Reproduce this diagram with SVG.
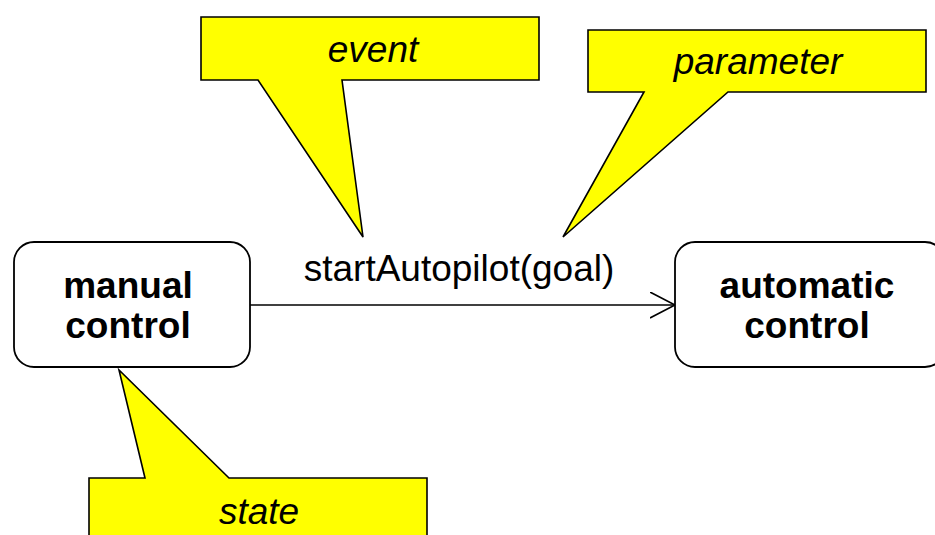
<svg xmlns="http://www.w3.org/2000/svg" width="935" height="535" viewBox="0 0 935 535">
<defs>
<style>
.note{fill:#ffff00;stroke:#000;stroke-width:1.6;stroke-linejoin:miter}
.notetext{font-family:"Liberation Sans",Arial,sans-serif;font-style:italic;font-size:37px;text-anchor:middle;fill:#000}
.state{fill:#fff;stroke:#000;stroke-width:1.8}
.statetext{font-family:"Liberation Sans",Arial,sans-serif;font-weight:bold;font-size:37px;text-anchor:middle;fill:#000}
.label{font-family:"Liberation Sans",Arial,sans-serif;font-size:37px;text-anchor:middle;fill:#000}
.edge{fill:none;stroke:#000;stroke-width:1.6}
</style>
<marker id="open" markerWidth="30" markerHeight="30" refX="25" refY="13" orient="auto" markerUnits="userSpaceOnUse">
<path d="M0,0 L25,13 L0,26" fill="none" stroke="#000" stroke-width="1.6"/>
</marker>
</defs>
<rect width="935" height="535" fill="#fff"/>
<g id="connectors">
<line class="edge" x1="250" y1="305" x2="675" y2="305" marker-end="url(#open)"/>
<text class="label" x="459" y="281">startAutopilot(goal)</text>
</g>
<g id="manual">
<rect class="state" x="14" y="242" width="236" height="125" rx="20"/>
<text class="statetext" x="128" y="298">manual</text>
<text class="statetext" x="128" y="338">control</text>
</g>
<g id="automatic">
<rect class="state" x="675" y="242" width="270" height="125" rx="20"/>
<text class="statetext" x="807" y="298">automatic</text>
<text class="statetext" x="807" y="338">control</text>
</g>
<g id="note-event">
<path class="note" d="M201,17 H539 V80 H342 L363,237 L258,80 H201 Z"/>
<text class="notetext" x="373" y="62">event</text>
</g>
<g id="note-parameter">
<path class="note" d="M588,30 H926 V92 H728 L563,237 L644,92 H588 Z"/>
<text class="notetext" x="758" y="74">parameter</text>
</g>
<g id="note-state">
<path class="note" d="M89,478 H145 L119,370 L229,478 H427 V545 H89 Z"/>
<text class="notetext" x="259" y="524">state</text>
</g>
</svg>
